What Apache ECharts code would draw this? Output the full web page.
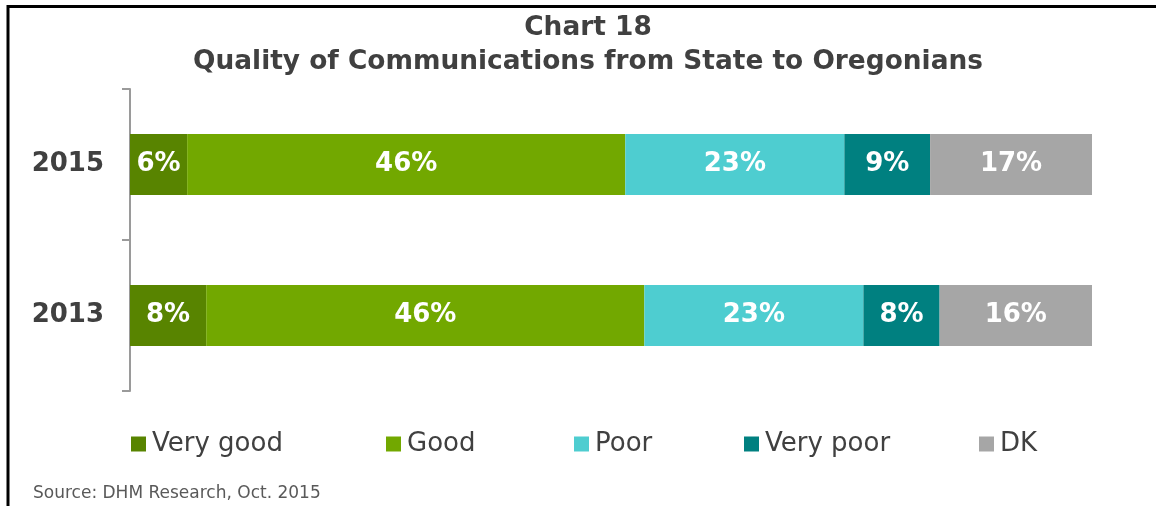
<!DOCTYPE html>
<html>
<head>
<meta charset="utf-8">
<style>
  html, body { margin: 0; padding: 0; background: #fff; }
  #chart { width: 1156px; height: 506px; }
</style>
<script src="https://cdn.jsdelivr.net/npm/echarts@6/dist/echarts.min.js"></script>
</head>
<body>
<div id="chart"></div>
<script>
// Survey years, listed top to bottom
const years = ['2015', '2013'];

// Response shares (%) for each year, same order as years
const veryGood = [6, 8];
const good = [46, 46];
const poor = [23, 23];
const veryPoor = [9, 8];
const dk = [17, 16];

const seriesNames = ['Very good', 'Good', 'Poor', 'Very poor', 'DK'];
const seriesValues = [veryGood, good, poor, veryPoor, dk];
const seriesColors = ['#588400', '#72a800', '#4ecdd0', '#008080', '#a6a6a6'];

const FONT = 'DejaVu Sans';
const TEXT = '#404040';

// Horizontal extent of the bars: largest row total
const rowTotals = years.map((_, i) => seriesValues.reduce((s, arr) => s + arr[i], 0));
const xMax = Math.max(...rowTotals);

const chart = echarts.init(document.getElementById('chart'), null, { renderer: 'canvas' });

// One legend block per series so each sits in its own slot along the bottom row
const legendLefts = [126, 381, 569, 739, 974];
const legends = seriesNames.map((name, i) => ({
  data: [name],
  left: legendLefts[i],
  top: 426,
  itemWidth: 15,
  itemHeight: 15,
  itemGap: 0,
  icon: 'rect',
  selectedMode: false,
  textStyle: { fontFamily: FONT, fontSize: 26, color: TEXT, padding: [0, 0, 0, 1] }
}));

const option = {
  animation: false,
  backgroundColor: '#ffffff',
  title: [
    {
      text: 'Chart 18\nQuality of Communications from State to Oregonians',
      left: 583,
      top: 6,
      textAlign: 'center',
      textStyle: {
        fontFamily: FONT,
        fontWeight: 'bold',
        fontSize: 26.4,
        lineHeight: 34,
        color: TEXT,
        align: 'center'
      }
    },
    {
      text: 'Source: DHM Research, Oct. 2015',
      left: 28,
      top: 480,
      textStyle: { fontFamily: FONT, fontWeight: 'normal', fontSize: 17, color: '#595959' }
    }
  ],
  legend: legends,
  grid: { left: 130, right: 64, top: 89, bottom: 115, containLabel: false },
  xAxis: {
    type: 'value',
    min: 0,
    max: xMax,
    show: false
  },
  yAxis: {
    type: 'category',
    data: years,
    inverse: true,
    axisLine: { show: true, lineStyle: { color: '#9a9a9a', width: 2 } },
    axisTick: { show: true, length: 8, lineStyle: { color: '#9a9a9a', width: 2 } },
    axisLabel: {
      fontFamily: FONT,
      fontWeight: 'bold',
      fontSize: 26,
      color: TEXT,
      margin: 26
    },
    splitLine: { show: false }
  },
  graphic: [
    {
      type: 'rect',
      silent: true,
      shape: { x: 8, y: 6.5, width: 1300, height: 700 },
      style: { fill: 'none', stroke: '#000000', lineWidth: 3 }
    }
  ],
  series: seriesNames.map((name, i) => ({
    name: name,
    type: 'bar',
    stack: 'total',
    barWidth: 61,
    data: seriesValues[i],
    itemStyle: { color: seriesColors[i] },
    label: {
      show: true,
      position: 'inside',
      formatter: '{c}%',
      fontFamily: FONT,
      fontWeight: 'bold',
      fontSize: 26,
      color: '#ffffff'
    }
  }))
};

chart.setOption(option);
</script>
</body>
</html>
